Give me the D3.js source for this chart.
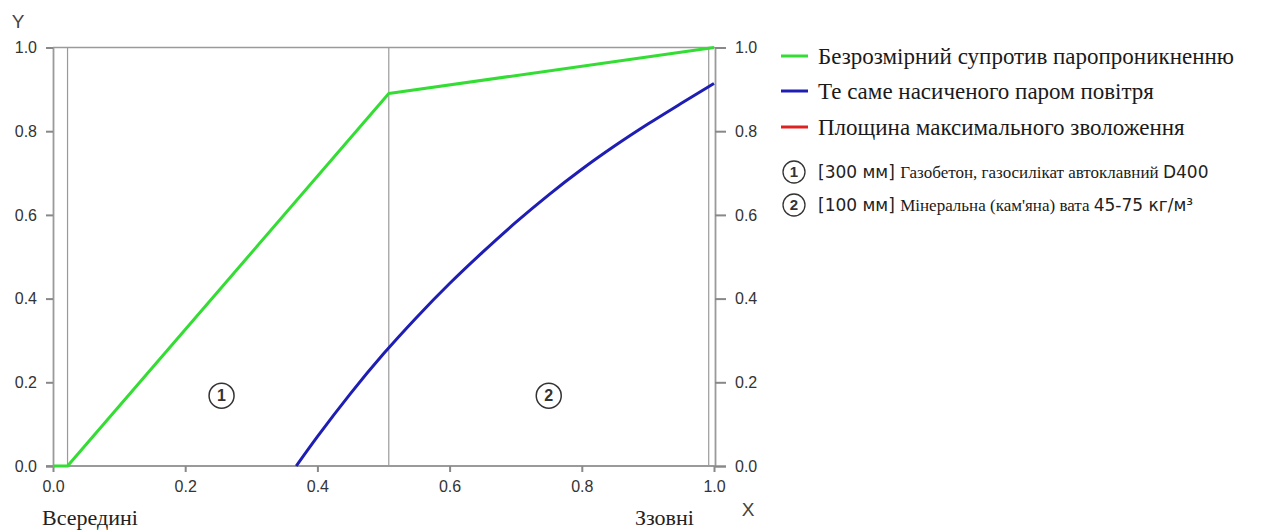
<!DOCTYPE html>
<html><head><meta charset="utf-8">
<script src="https://cdn.jsdelivr.net/npm/d3@7"></script>
<style>
html,body{margin:0;padding:0;background:#fff;}
svg{display:block;}
</style></head>
<body>
<svg id="chart" width="1278" height="530"></svg>
<script>
// ---- data ----
const greenX = [0, 0.022, 0.508, 1.0];
const greenY = [0, 0, 0.89, 1.0];
const blueX = [0.368, 0.40, 0.45, 0.50, 0.55, 0.60, 0.65, 0.70, 0.75, 0.80, 0.85, 0.90, 0.95, 1.0];
const blueY = [0, 0.070, 0.173, 0.268, 0.355, 0.436, 0.511, 0.582, 0.648, 0.709, 0.765, 0.817, 0.866, 0.914];
const boundaries = [0.022, 0.508, 0.992];
const xTicks = [0, 0.2, 0.4, 0.6, 0.8, 1.0];
const yTicks = [0, 0.2, 0.4, 0.6, 0.8, 1.0];
const layerNums = ["1", "2"];
const layerMid = [0.255, 0.750];
const layerThick = ["[300 мм]", "[100 мм]"];
const layerName = ["Газобетон, газосилікат автоклавний", "Мінеральна (кам'яна) вата"];
const layerSpec = ["D400", "45-75 кг/м³"];
const seriesNames = ["Безрозмірний супротив паропроникненню", "Те саме насиченого паром повітря", "Площина максимального зволоження"];
const seriesColors = ["#33dd33", "#1e1eb4", "#dd2222"];

// ---- layout ----
const svg = d3.select("#chart");
const x = d3.scaleLinear().domain([0, 1]).range([53, 714]);
const y = d3.scaleLinear().domain([0, 1]).range([466, 47.5]);
const axisColor = "#9a9a9a";
const textColor = "#333";
const sans = "'Liberation Sans', Arial, sans-serif";
const wideSans = "'DejaVu Sans', Verdana, sans-serif";
const serif = "'Liberation Serif', 'Times New Roman', serif";

// top border
svg.append("line").attr("x1", x(0)).attr("x2", x(1) + 1).attr("y1", y(1)).attr("y2", y(1))
  .attr("stroke", axisColor).attr("stroke-width", 1.5);

// boundary vertical lines
svg.selectAll("line.bnd").data(boundaries).join("line").attr("class", "bnd")
  .attr("x1", d => x(d)).attr("x2", d => x(d)).attr("y1", y(1)).attr("y2", y(0))
  .attr("stroke", axisColor).attr("stroke-width", 1.2);

// bottom axis
const xAxis = d3.axisBottom(x).tickValues(xTicks).tickFormat(d3.format(".1f")).tickSize(6).tickPadding(9);
const gx = svg.append("g").attr("transform", `translate(0,${y(0)})`).call(xAxis);
// left axis
const yAxisL = d3.axisLeft(y).tickValues(yTicks).tickFormat(d3.format(".1f")).tickSize(7).tickPadding(9);
const gyl = svg.append("g").attr("transform", `translate(${x(0)},0)`).call(yAxisL);
// right axis
const yAxisR = d3.axisRight(y).tickValues(yTicks).tickFormat(d3.format(".1f")).tickSize(11).tickPadding(9);
const gyr = svg.append("g").attr("transform", `translate(${x(1) + 1},0)`).call(yAxisR);

[gx, gyl, gyr].forEach(g => {
  g.select(".domain").attr("stroke", axisColor).attr("stroke-width", 1.8);
  g.selectAll(".tick line").attr("stroke", "#888").attr("stroke-width", 2);
  g.selectAll(".tick text").attr("fill", textColor).style("font-family", sans).style("font-size", "16px");
});
gx.select(".domain").attr("d", `M${x(0) - 7},0H${x(1) + 1}`);

// axis titles
svg.append("text").attr("x", 18).attr("y", 28).attr("text-anchor", "middle")
  .style("font-family", sans).style("font-size", "19px").attr("fill", "#444").text("Y");
svg.append("text").attr("x", 748).attr("y", 516).attr("text-anchor", "middle")
  .style("font-family", sans).style("font-size", "19px").attr("fill", "#444").text("X");
svg.append("text").attr("x", 42).attr("y", 525)
  .style("font-family", serif).style("font-size", "22px").attr("fill", "#222").text("Всередині");
svg.append("text").attr("x", 635).attr("y", 525)
  .style("font-family", serif).style("font-size", "22px").attr("fill", "#222").text("Ззовні");

// lines
const greenData = greenX.map((d, i) => [d, greenY[i]]);
const blueData = blueX.map((d, i) => [d, blueY[i]]);
const lineGen = d3.line().x(d => x(d[0])).y(d => y(d[1]));
svg.append("path").datum(greenData).attr("d", lineGen).attr("fill", "none")
  .attr("stroke", seriesColors[0]).attr("stroke-width", 3).attr("stroke-linejoin", "round");
svg.append("path").datum(blueData).attr("d", lineGen.curve(d3.curveMonotoneX)).attr("fill", "none")
  .attr("stroke", seriesColors[1]).attr("stroke-width", 3).attr("stroke-linejoin", "round");

// layer markers in chart
const mk = svg.selectAll("g.mk").data(layerNums).join("g").attr("class", "mk")
  .attr("transform", (d, i) => `translate(${x(layerMid[i])},${y(0.168)})`);
mk.append("circle").attr("r", 12.5).attr("fill", "#fff").attr("stroke", "#333").attr("stroke-width", 1.5);
mk.append("text").attr("text-anchor", "middle").attr("dy", "0.36em")
  .style("font-family", sans).style("font-size", "16px").style("font-weight", "bold").attr("fill", "#333").text(d => d);

// legend
const lg = svg.append("g");
const rowY = [56, 91, 127];
seriesNames.forEach((name, i) => {
  lg.append("line").attr("x1", 781).attr("x2", 808).attr("y1", rowY[i]).attr("y2", rowY[i])
    .attr("stroke", seriesColors[i]).attr("stroke-width", 3);
  lg.append("text").attr("x", 818).attr("y", rowY[i] + 8)
    .style("font-family", serif).style("font-size", "23px").attr("fill", "#1a1a1a").text(name);
});
const layerRowY = [172, 205];
layerNums.forEach((n, i) => {
  const g = lg.append("g").attr("transform", `translate(794,${layerRowY[i]})`);
  g.append("circle").attr("r", 11).attr("fill", "#fff").attr("stroke", "#333").attr("stroke-width", 1.3);
  g.append("text").attr("text-anchor", "middle").attr("dy", "0.36em")
    .style("font-family", sans).style("font-size", "15px").style("font-weight", "bold").attr("fill", "#333").text(n);
  const t = lg.append("text").attr("x", 818).attr("y", layerRowY[i] + 6);
  t.append("tspan").style("font-family", wideSans).style("font-size", "17px").attr("fill", "#222").text(layerThick[i] + " ");
  t.append("tspan").style("font-family", serif).style("font-size", "17px").attr("fill", "#1a1a1a").text(layerName[i] + " ");
  t.append("tspan").style("font-family", wideSans).style("font-size", "17px").attr("fill", "#222").text(layerSpec[i]);
});
</script>
</body></html>
